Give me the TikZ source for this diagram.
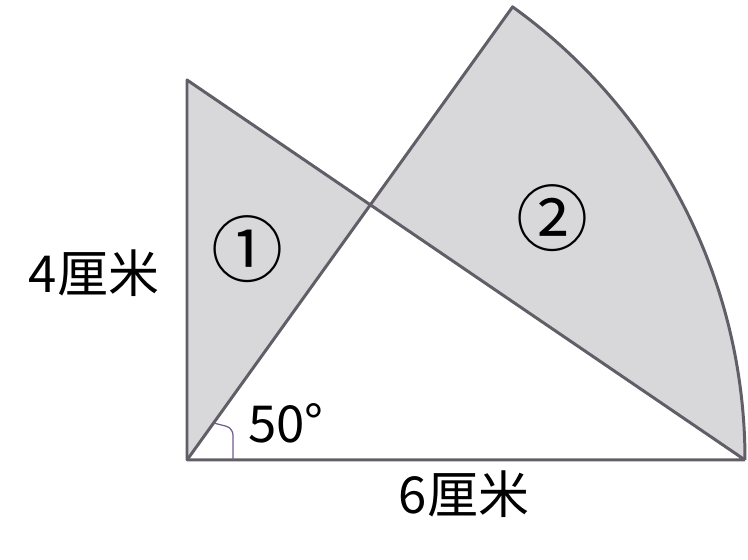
\documentclass[tikz,border=0pt]{standalone}
\usepackage{fontspec}
\setmainfont{Noto Sans CJK SC}
\usepackage{tikz}
\usetikzlibrary{calc}
\tikzset{>=latex}
\definecolor{edgegray}{RGB}{98,94,104}
\definecolor{shadegray}{RGB}{216,216,219}
\definecolor{markpurple}{RGB}{112,92,140}

\begin{document}
\begin{tikzpicture}[x=0.02cm,y=0.02cm,
    edge/.style={draw=edgegray, line width=1.7pt, line join=round},
    lbl/.style={inner sep=0pt, font=\fontsize{29}{29}\selectfont},
    numlbl/.style={inner sep=0pt, font=\fontsize{41}{41}\selectfont}]
\def\R{558}
\def\ang{54.3}
  \useasboundingbox (0,0) rectangle (748,560);

  % corners of the triangle and the tip of the sector
  \coordinate (O) at (187,100);
  \coordinate (A) at (187,480);
  \coordinate (B) at (187+\R,100);
  \coordinate (C) at ($(O)+(\ang:\R)$);
  \coordinate (P) at (intersection of A--B and O--C);

  % shaded parts
  \fill[shadegray] (O) -- (A) -- (P) -- cycle;
  \fill[shadegray] (P) -- (C) arc[start angle=\ang, end angle=0, radius=\R] -- cycle;

  % outlines
  \draw[edge] (B) -- (O) -- (A) -- (B);
  \draw[edge] (O) -- (C) arc[start angle=\ang, end angle=0, radius=\R];

  % angle mark
  \draw[markpurple, line width=0.7pt, rounded corners=4pt]
    ($(O)!0.145!(P)$) -- (233,132) -- (233,100);

  \node[numlbl] (one) at (247.5,311) {①};
  \node[numlbl] (two) at (552.5,342) {②};
  \node[lbl, anchor=west] (deg) at (248,137) {50°};
  \node[lbl] (lenL) at (94,287) {4厘米};
  \node[lbl] (lenB) at (464,66) {6厘米};
\end{tikzpicture}
\end{document}
